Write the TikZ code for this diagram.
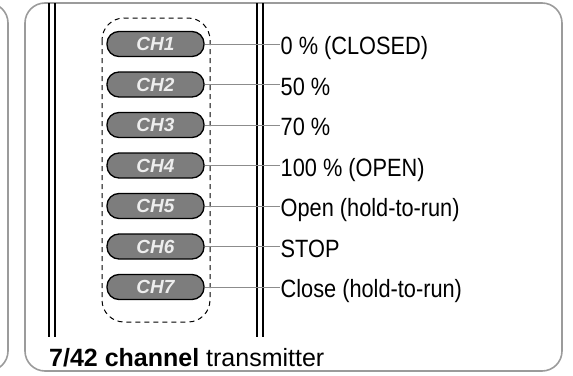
\documentclass[tikz,border=0pt]{standalone}
\usepackage{fontspec}
\setmainfont{Liberation Sans}
\newfontfamily\labelfont{Liberation Sans}[FakeStretch=0.87]
\usetikzlibrary{positioning}
\definecolor{frame}{RGB}{155,155,155}
\definecolor{btn}{RGB}{125,125,125}
\definecolor{btntext}{RGB}{238,238,238}
\definecolor{wire}{RGB}{140,140,140}
\tikzset{
	panel/.style={draw=frame,line width=1.6pt,rounded corners=20pt},
	rail/.style={line width=1.3pt},
	chbutton/.style={draw=black,line width=1.3pt,fill=btn,rounded corners=12pt,
		minimum width=97pt,minimum height=25pt,inner sep=0pt,
		text=btntext,font=\fontsize{19}{22}\selectfont\bfseries\itshape},
	chlabel/.style={anchor=base west,inner sep=0.5pt,font=\labelfont\fontsize{25}{29}\selectfont},
	wire/.style={draw=wire,line width=0.8pt}
}
\begin{document}
\begin{tikzpicture}[x=1pt,y=-1pt]
	\clip (0,0) rectangle (573,375);
	\draw[panel] (-60,3) rectangle (8,371);
	\draw[panel] (25,3) rectangle (562,371);
	\foreach \x in {49,55,257,263} \draw[rail] (\x,3) -- (\x,337);
	\draw[dash pattern=on 5pt off 4pt,line width=1pt,rounded corners=22pt] (102,18) rectangle (210,322);
	\foreach \i/\txt in {1/0 \% (CLOSED),2/50 \%,3/70 \%,4/100 \% (OPEN),
		5/Open (hold-to-run),6/STOP,7/Close (hold-to-run)} {
		\node[chbutton] (ch\i) at (155.5,{44+40.5*(\i-1)}) {CH\i};
		\node[chlabel] (lab\i) at (280,{54.5+40.5*(\i-1)}) {\txt};
		\draw[wire] (ch\i.east) -- (ch\i.east -| lab\i.west);
	}
	\node[anchor=base west,inner sep=0pt,font=\fontsize{25}{30}\selectfont] (caption) at (49,366)
		{\textbf{7/42 channel} transmitter};
\end{tikzpicture}
\end{document}
